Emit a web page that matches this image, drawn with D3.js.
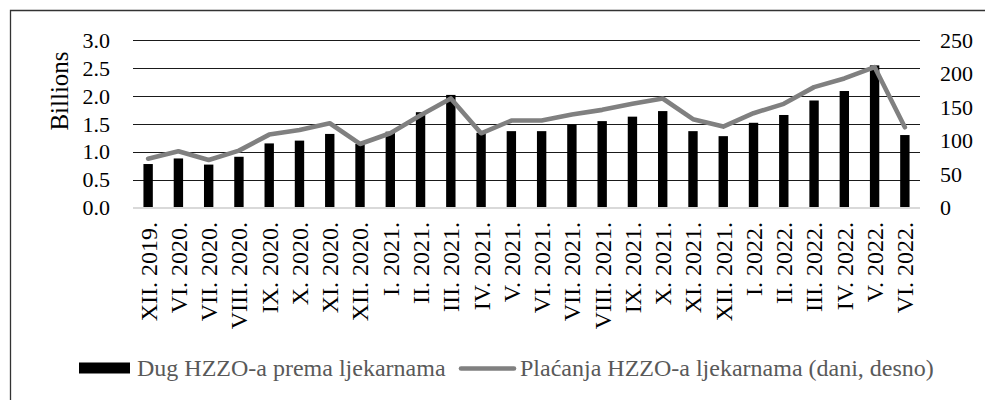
<!DOCTYPE html>
<html>
<head>
<meta charset="utf-8">
<script src="https://cdn.jsdelivr.net/npm/d3@7"></script>
<style>
  html, body { margin: 0; padding: 0; background: #fff; }
  svg { display: block; }
  text { font-family: "Liberation Serif", "Times New Roman", serif; }
</style>
</head>
<body>
<svg id="chart" width="985" height="400"></svg>
<script>
const categories = ["XII. 2019.","VI. 2020.","VII. 2020.","VIII. 2020.","IX. 2020.","X. 2020.","XI. 2020.","XII. 2020.",
  "I. 2021.","II. 2021.","III. 2021.","IV. 2021.","V. 2021.","VI. 2021.","VII. 2021.","VIII. 2021.","IX. 2021.","X. 2021.","XI. 2021.","XII. 2021.",
  "I. 2022.","II. 2022.","III. 2022.","IV. 2022.","V. 2022.","VI. 2022."];
const debtBillions = [0.78,0.88,0.77,0.91,1.15,1.20,1.32,1.14,1.36,1.71,2.02,1.34,1.37,1.37,1.49,1.55,1.63,1.73,1.37,1.28,1.52,1.66,1.92,2.09,2.55,1.30];
const paymentDays = [73,84,71,85,109,116,126,95,111,138,163,111,130,130,139,146,155,163,132,121,141,155,180,193,210,120];
const leftTicks = [0,0.5,1.0,1.5,2.0,2.5,3.0];
const rightTicks = [0,50,100,150,200,250];
const seriesNames = ["Dug HZZO-a prema ljekarnama","Plaćanja HZZO-a ljekarnama (dani, desno)"];

const svg = d3.select("#chart");
const plot = {left: 133, right: 920, top: 40.3, bottom: 207.5};

// frame
svg.append("path")
  .attr("d", `M10.5,400 L10.5,10.5 L985,10.5`)
  .attr("fill", "none").attr("stroke", "#333").attr("stroke-width", 1.3);

const x = d3.scaleBand().domain(categories).range([plot.left, plot.right]).padding(0);
const yL = d3.scaleLinear().domain([0, 3]).range([plot.bottom, plot.top]);
const yR = d3.scaleLinear().domain([0, 250]).range([plot.bottom, plot.top]);

// gridlines
svg.append("g").selectAll("line").data(leftTicks.filter(d => d > 0)).join("line")
  .attr("x1", plot.left).attr("x2", plot.right)
  .attr("y1", d => Math.round(yL(d)) + 0.5).attr("y2", d => Math.round(yL(d)) + 0.5)
  .attr("stroke", "#1a1a1a").attr("stroke-width", 1);

// left axis labels
const fmt = d3.format(".1f");
svg.append("g").selectAll("text").data(leftTicks).join("text")
  .attr("x", 110).attr("y", d => yL(d)).attr("dy", "0.35em")
  .attr("text-anchor", "end").attr("font-size", 22).attr("fill", "#000")
  .text(d => fmt(d));

// right axis labels
svg.append("g").selectAll("text").data(rightTicks).join("text")
  .attr("x", 940).attr("y", d => yR(d)).attr("dy", "0.35em")
  .attr("text-anchor", "start").attr("font-size", 22).attr("fill", "#000")
  .text(d => d);

// y axis title
svg.append("text")
  .attr("transform", "translate(68,91) rotate(-90)")
  .attr("text-anchor", "middle").attr("font-size", 25).attr("fill", "#000")
  .text("Billions");

// bars
const barW = x.bandwidth() * 0.31;
svg.append("g").selectAll("rect").data(categories).join("rect")
  .attr("x", (d) => x(d) + x.bandwidth() / 2 - barW / 2)
  .attr("y", (d, i) => yL(debtBillions[i]))
  .attr("width", barW)
  .attr("height", (d, i) => yL(0) - yL(debtBillions[i]))
  .attr("fill", "#000");

// baseline
svg.append("line")
  .attr("x1", plot.left).attr("x2", plot.right)
  .attr("y1", plot.bottom + 0.5).attr("y2", plot.bottom + 0.5)
  .attr("stroke", "#d9d9d9").attr("stroke-width", 2);

// line
const line = d3.line()
  .x((d, i) => x(categories[i]) + x.bandwidth() / 2)
  .y(d => yR(d));
svg.append("path").datum(paymentDays)
  .attr("d", line)
  .attr("fill", "none").attr("stroke", "#808080").attr("stroke-width", 4.6)
  .attr("stroke-linejoin", "round").attr("stroke-linecap", "round");

// x labels
svg.append("g").selectAll("text").data(categories).join("text")
  .attr("transform", d => `translate(${x(d) + x.bandwidth() / 2},222) rotate(-90)`)
  .attr("text-anchor", "end").attr("dy", "0.35em")
  .attr("font-size", 24).attr("fill", "#000")
  .text(d => d);

// legend
const lg = svg.append("g");
lg.append("rect").attr("x", 79).attr("y", 362.5).attr("width", 51).attr("height", 11).attr("fill", "#000");
lg.append("text").attr("x", 137).attr("y", 376).attr("font-size", 24).attr("fill", "#595959").text(seriesNames[0]);
lg.append("line").attr("x1", 461).attr("x2", 514).attr("y1", 368.5).attr("y2", 368.5)
  .attr("stroke", "#808080").attr("stroke-width", 4.6).attr("stroke-linecap", "round");
lg.append("text").attr("x", 520).attr("y", 376).attr("font-size", 24).attr("fill", "#595959").text(seriesNames[1]);
</script>
</body>
</html>
